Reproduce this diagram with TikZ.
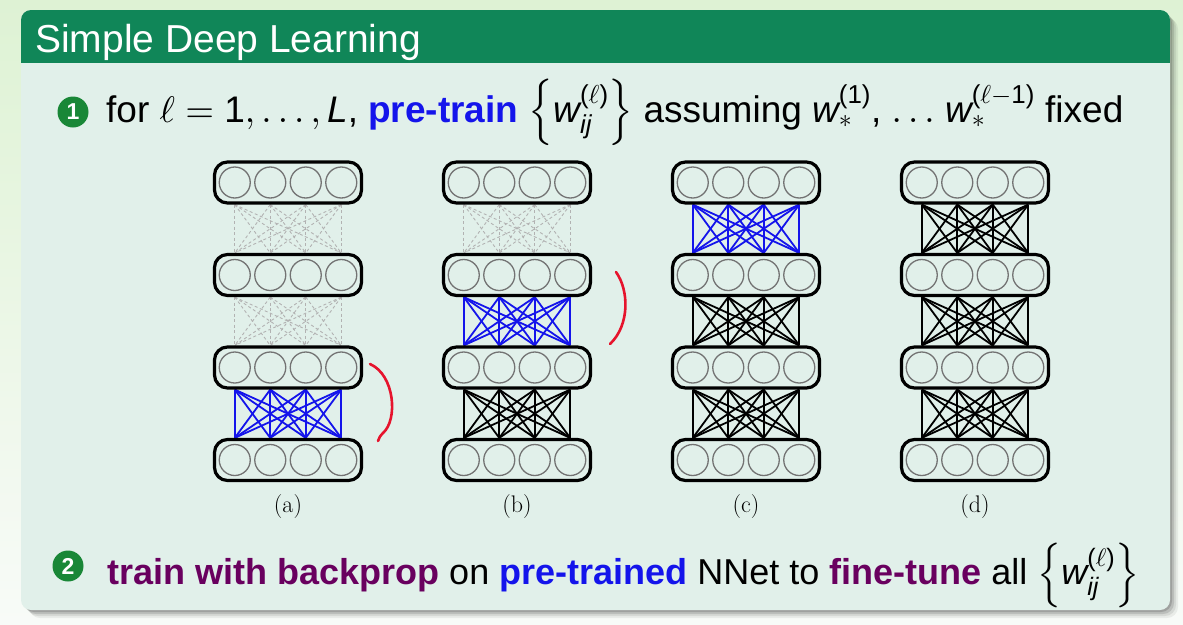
\documentclass[tikz,border=0pt]{standalone}
\usepackage{amsmath}
\usepackage{fontspec}
\DeclareFontShape{OML}{cmm}{m}{it}{<->cmmi10}{}
\DeclareFontShape{OMS}{cmsy}{m}{n}{<->cmsy10}{}
\DeclareFontShape{OMX}{cmex}{m}{n}{<->cmex10}{}
\DeclareFontShape{OT1}{cmr}{m}{n}{<->cmr10}{}
\newfontfamily\sff{Liberation Sans}
\usetikzlibrary{calc}
\definecolor{tgreen}{RGB}{16,134,88}
\definecolor{bodyc}{RGB}{225,240,234}
\definecolor{pblue}{RGB}{20,20,235}
\definecolor{ppurple}{RGB}{105,0,95}
\definecolor{redarc}{RGB}{230,20,45}
\definecolor{ballg}{RGB}{25,135,55}
\definecolor{bgtop}{RGB}{222,242,212}
\definecolor{bgbot}{RGB}{248,251,248}
\pgfdeclarelayer{background}
\pgfdeclarelayer{conn}
\pgfsetlayers{background,conn,main}
\begin{document}
\begin{tikzpicture}[x=1pt,y=-1pt,
  layerbox/.style={draw=black, line width=3.2pt, rounded corners=13pt, minimum width=147pt, minimum height=41pt, inner sep=0pt},
  unit/.style={circle, draw=black!55, line width=1.3pt, minimum size=31pt, inner sep=0pt},
  wdash/.style={draw=black!30, line width=0.9pt, dash pattern=on 3pt off 2.5pt},
  wblue/.style={draw=pblue, line width=1.8pt},
  wblack/.style={draw=black, line width=1.8pt},
  arcpen/.style={draw=redarc, line width=2.6pt, line cap=round},
  txt/.style={font=\sff\fontsize{36}{42}\selectfont, inner sep=0pt},
  ball/.style={circle, fill=ballg, text=white, minimum size=31pt, inner sep=0pt, font=\sff\bfseries\fontsize{23}{23}\selectfont},
  sublabel/.style={font=\rmfamily\fontsize{24}{26}\selectfont}]
\useasboundingbox (0,0) rectangle (1183,624);
\begin{pgfonlayer}{background}
  \shade[top color=bgtop, bottom color=bgbot] (0,0) rectangle (1183,624);
  \foreach \d/\op in {8/0.06,6/0.08,4/0.12,2/0.15}
    \fill[black, opacity=\op, rounded corners=11pt] ({21+\d},{10+\d}) rectangle ({1170+\d},{610+\d});
  \fill[bodyc, rounded corners=10pt] (21,10) rectangle (1170,610);
  \fill[tgreen, rounded corners=10pt] (21,10) rectangle (1170,40);
  \fill[tgreen] (21,30) rectangle (1170,63);
\end{pgfonlayer}

\node[anchor=base west, text=white, font=\sff\fontsize{39}{44}\selectfont, inner sep=0pt] (title) at (35,52) {Simple Deep Learning};

\node[ball] (n1) at (73,112) {1};
\node[anchor=base west, txt, font=\sff\fontsize{37}{42}\selectfont] (line1) at (106,122) {for $\ell = \text{1}, \ldots, \text{\itshape L}$, {\bfseries\color{pblue}pre-train} $\left\{ \text{\itshape w}_{\text{\itshape ij}}^{\text{(}\ell\text{)}} \right\}$ assuming $\text{\itshape w}_*^{\text{(1)}}$, $\ldots$ $\text{\itshape w}_*^{\text{(}\ell-\text{1)}}$ fixed};

\foreach \col/\cx/\bg in {a/288/3, b/517/2, c/746/1, d/975/0}{
  \foreach \l in {1,2,3,4}{
    \node[layerbox] (\col\l) at (\cx, {182.5+(\l-1)*92.5}) {};
    \foreach \i in {1,...,4}
      \node[unit] (\col\l-\i) at ({\cx+(\i-2.5)*35.5}, {182.5+(\l-1)*92.5}) {};
  }
  \begin{pgfonlayer}{conn}
  \foreach \g/\h in {1/2, 2/3, 3/4}{
    \ifnum\g<\bg \def\st{wdash}\else\ifnum\g=\bg \def\st{wblue}\else\def\st{wblack}\fi\fi
    \foreach \i in {1,...,4}
      \foreach \j in {1,...,4}
        \draw[\st] (\col\g-\i |- \col\g.south) -- (\col\h-\j |- \col\h.north);
  }
  \end{pgfonlayer}
  \node[sublabel] (lab\col) at (\cx, 507) {(\col)};
}

\draw[arcpen] (370,364) .. controls (395,375) and (398,420) .. (383,433) .. controls (380,436) and (379,438) .. (378,441);
\draw[arcpen] (616,272) .. controls (629,290) and (630,325) .. (610,344);

\node[ball] (n2) at (68,566) {2};
\node[anchor=base west, txt] (line2) at (107,584) {{\bfseries\color{ppurple}train with backprop} on {\bfseries\color{pblue}pre-trained} NNet to {\bfseries\color{ppurple}fine-tune} all $\left\{ \text{\itshape w}_{\text{\itshape ij}}^{\text{(}\ell\text{)}} \right\}$};
\end{tikzpicture}
\end{document}
